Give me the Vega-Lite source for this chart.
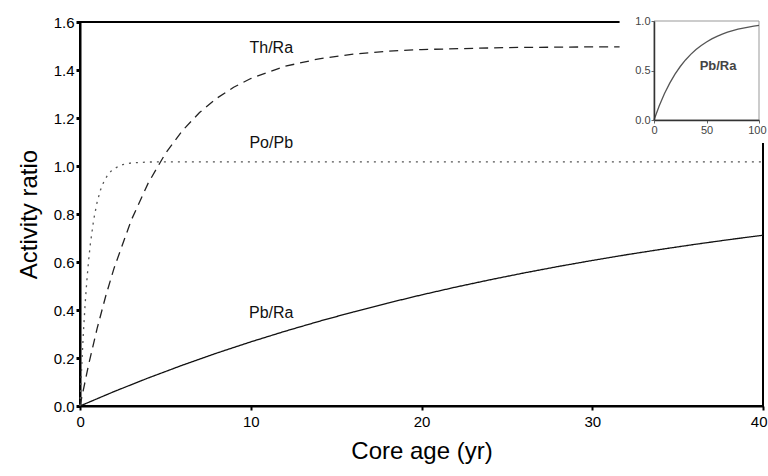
{
  "$schema": "https://vega.github.io/schema/vega-lite/v6.json",
  "width": 683,
  "height": 384,
  "autosize": {"type": "none"},
  "padding": {"left": 80, "top": 22, "right": 5, "bottom": 70},
  "background": "white",
  "config": {
    "view": {"stroke": "black", "strokeWidth": 2},
    "font": "Liberation Sans",
    "axis": {"grid": false, "domainColor": "black", "tickColor": "black", "labelColor": "black", "titleColor": "black", "labelFont": "Liberation Sans", "titleFont": "Liberation Sans", "titleFontWeight": "normal", "labelFlush": false}
  },
  "datasets": {
    "curves": [
      {"series": "Pb/Ra", "t": 0, "v": 0},
      {"series": "Pb/Ra", "t": 2, "v": 0.0603},
      {"series": "Pb/Ra", "t": 4, "v": 0.1169},
      {"series": "Pb/Ra", "t": 6, "v": 0.1701},
      {"series": "Pb/Ra", "t": 8, "v": 0.2202},
      {"series": "Pb/Ra", "t": 10, "v": 0.2672},
      {"series": "Pb/Ra", "t": 12, "v": 0.3113},
      {"series": "Pb/Ra", "t": 14, "v": 0.3528},
      {"series": "Pb/Ra", "t": 16, "v": 0.3918},
      {"series": "Pb/Ra", "t": 18, "v": 0.4285},
      {"series": "Pb/Ra", "t": 20, "v": 0.4629},
      {"series": "Pb/Ra", "t": 22, "v": 0.4953},
      {"series": "Pb/Ra", "t": 24, "v": 0.5257},
      {"series": "Pb/Ra", "t": 26, "v": 0.5543},
      {"series": "Pb/Ra", "t": 28, "v": 0.5812},
      {"series": "Pb/Ra", "t": 30, "v": 0.6064},
      {"series": "Pb/Ra", "t": 32, "v": 0.6302},
      {"series": "Pb/Ra", "t": 34, "v": 0.6524},
      {"series": "Pb/Ra", "t": 36, "v": 0.6734},
      {"series": "Pb/Ra", "t": 38, "v": 0.6931},
      {"series": "Pb/Ra", "t": 40, "v": 0.7116},
      {"series": "Th/Ra", "t": 0, "v": 0},
      {"series": "Th/Ra", "t": 0.5, "v": 0.1709},
      {"series": "Th/Ra", "t": 1, "v": 0.3223},
      {"series": "Th/Ra", "t": 1.5, "v": 0.4564},
      {"series": "Th/Ra", "t": 2, "v": 0.5753},
      {"series": "Th/Ra", "t": 3, "v": 0.7738},
      {"series": "Th/Ra", "t": 4, "v": 0.9295},
      {"series": "Th/Ra", "t": 5, "v": 1.0518},
      {"series": "Th/Ra", "t": 6, "v": 1.1476},
      {"series": "Th/Ra", "t": 7, "v": 1.2228},
      {"series": "Th/Ra", "t": 8, "v": 1.2819},
      {"series": "Th/Ra", "t": 9, "v": 1.3281},
      {"series": "Th/Ra", "t": 10, "v": 1.3645},
      {"series": "Th/Ra", "t": 12, "v": 1.4154},
      {"series": "Th/Ra", "t": 14, "v": 1.4468},
      {"series": "Th/Ra", "t": 16, "v": 1.4661},
      {"series": "Th/Ra", "t": 18, "v": 1.478},
      {"series": "Th/Ra", "t": 20, "v": 1.4853},
      {"series": "Th/Ra", "t": 25, "v": 1.4935},
      {"series": "Th/Ra", "t": 30, "v": 1.4962},
      {"series": "Th/Ra", "t": 35, "v": 1.4968},
      {"series": "Th/Ra", "t": 40, "v": 1.497},
      {"series": "Po/Pb", "t": 0, "v": 0},
      {"series": "Po/Pb", "t": 0.1, "v": 0.1675},
      {"series": "Po/Pb", "t": 0.2, "v": 0.3072},
      {"series": "Po/Pb", "t": 0.3, "v": 0.4241},
      {"series": "Po/Pb", "t": 0.4, "v": 0.5218},
      {"series": "Po/Pb", "t": 0.5, "v": 0.6033},
      {"series": "Po/Pb", "t": 0.6, "v": 0.6714},
      {"series": "Po/Pb", "t": 0.8, "v": 0.7759},
      {"series": "Po/Pb", "t": 1.0, "v": 0.8488},
      {"series": "Po/Pb", "t": 1.2, "v": 0.8997},
      {"series": "Po/Pb", "t": 1.4, "v": 0.9352},
      {"series": "Po/Pb", "t": 1.6, "v": 0.96},
      {"series": "Po/Pb", "t": 1.8, "v": 0.9773},
      {"series": "Po/Pb", "t": 2.0, "v": 0.9894},
      {"series": "Po/Pb", "t": 2.5, "v": 1.0059},
      {"series": "Po/Pb", "t": 3, "v": 1.0127},
      {"series": "Po/Pb", "t": 4, "v": 1.0165},
      {"series": "Po/Pb", "t": 5, "v": 1.0172},
      {"series": "Po/Pb", "t": 10, "v": 1.0173},
      {"series": "Po/Pb", "t": 20, "v": 1.0173},
      {"series": "Po/Pb", "t": 30, "v": 1.0173},
      {"series": "Po/Pb", "t": 40, "v": 1.0173}
    ],
    "inset": [
      {"t": 0, "v": 0},
      {"t": 5, "v": 0.1439},
      {"t": 10, "v": 0.2672},
      {"t": 15, "v": 0.3726},
      {"t": 20, "v": 0.4629},
      {"t": 25, "v": 0.5403},
      {"t": 30, "v": 0.6064},
      {"t": 35, "v": 0.6631},
      {"t": 40, "v": 0.7116},
      {"t": 45, "v": 0.7531},
      {"t": 50, "v": 0.7886},
      {"t": 55, "v": 0.819},
      {"t": 60, "v": 0.8451},
      {"t": 65, "v": 0.8674},
      {"t": 70, "v": 0.8865},
      {"t": 75, "v": 0.9028},
      {"t": 80, "v": 0.9168},
      {"t": 85, "v": 0.9288},
      {"t": 90, "v": 0.939},
      {"t": 95, "v": 0.9478},
      {"t": 100, "v": 0.9553}
    ],
    "labels": [
      {"label": "Th/Ra", "t": 11.2, "v": 1.49},
      {"label": "Po/Pb", "t": 11.2, "v": 1.096},
      {"label": "Pb/Ra", "t": 11.2, "v": 0.387}
    ]
  },
  "layer": [
    {
      "layer": [
        {
          "data": {"name": "curves"},
          "mark": {"type": "line", "strokeWidth": 1.3},
          "encoding": {
            "x": {"field": "t", "type": "quantitative", "scale": {"domain": [0, 40], "nice": false},
              "axis": {"values": [0, 10, 20, 30, 40], "title": "Core age (yr)", "labelFontSize": 15, "titleFontSize": 24, "tickSize": 4, "tickWidth": 2, "domainWidth": 2, "labelPadding": 4, "titlePadding": 10, "labelFlush": true, "labelFlushOffset": 4}},
            "y": {"field": "v", "type": "quantitative", "scale": {"domain": [0, 1.6], "nice": false},
              "axis": {"values": [0, 0.2, 0.4, 0.6, 0.8, 1.0, 1.2, 1.4, 1.6], "format": ".1f", "title": "Activity ratio", "labelFontSize": 15, "titleFontSize": 24, "tickSize": 4, "tickWidth": 3, "domainWidth": 2, "labelPadding": 2, "titlePadding": 12}},
            "detail": {"field": "series", "type": "nominal"},
            "strokeDash": {"field": "series", "type": "nominal", "scale": {"domain": ["Pb/Ra", "Th/Ra", "Po/Pb"], "range": [[1, 0], [9, 6], [2, 5]]}, "legend": null},
            "color": {"field": "series", "type": "nominal", "scale": {"domain": ["Pb/Ra", "Th/Ra", "Po/Pb"], "range": ["#111111", "#222222", "#555555"]}, "legend": null}
          }
        },
        {
          "data": {"name": "labels"},
          "mark": {"type": "text", "fontSize": 16, "font": "Liberation Sans", "color": "#111111"},
          "encoding": {
            "x": {"field": "t", "type": "quantitative", "scale": {"domain": [0, 40], "nice": false}},
            "y": {"field": "v", "type": "quantitative", "scale": {"domain": [0, 1.6], "nice": false}},
            "text": {"field": "label", "type": "nominal"}
          }
        },
        {
          "data": {"values": [{}]},
          "mark": {"type": "rect", "fill": "white", "clip": false},
          "encoding": {
            "x": {"datum": 31.6, "type": "quantitative", "scale": {"domain": [0, 40], "nice": false}},
            "x2": {"datum": 41.5},
            "y": {"datum": 1.096, "type": "quantitative", "scale": {"domain": [0, 1.6], "nice": false}},
            "y2": {"datum": 1.75}
          }
        }
      ]
    },
    {
      "layer": [
        {
          "data": {"values": [{}]},
          "mark": {"type": "rect", "fill": null, "stroke": "#999999", "strokeWidth": 1},
          "encoding": {
            "x": {"datum": 0, "type": "quantitative", "scale": {"domain": [0, 100], "range": [574, 679], "nice": false}},
            "x2": {"datum": 100},
            "y": {"datum": 0, "type": "quantitative", "scale": {"domain": [0, 1], "range": [98, -1], "nice": false}},
            "y2": {"datum": 1}
          }
        },
        {
          "data": {"name": "inset"},
          "mark": {"type": "line", "color": "#555555", "strokeWidth": 1.3},
          "encoding": {
            "x": {"field": "t", "type": "quantitative", "scale": {"domain": [0, 100], "range": [574, 679], "nice": false},
              "axis": {"orient": "bottom", "offset": -286, "zindex": 2, "values": [0, 50, 100], "title": null, "labelFontSize": 11, "labelColor": "#444444", "tickSize": 3, "domainColor": "#333333", "domainWidth": 1.5, "tickColor": "#666666", "labelPadding": 1,
                "labelAlign": {"condition": {"test": "datum.value == 100", "value": "right"}, "value": "center"},
                "labelOffset": {"condition": {"test": "datum.value == 100", "value": 7}, "value": 0}}},
            "y": {"field": "v", "type": "quantitative", "scale": {"domain": [0, 1], "range": [98, -1], "nice": false},
              "axis": {"orient": "left", "offset": -574, "zindex": 2, "values": [0, 0.5, 1], "format": ".1f", "title": null, "labelFontSize": 11, "labelColor": "#444444", "tickSize": 3, "domainColor": "#333333", "domainWidth": 1.5, "tickColor": "#666666", "labelPadding": 1}}
          }
        },
        {
          "data": {"values": [{"label": "Pb/Ra", "t": 61, "v": 0.545}]},
          "mark": {"type": "text", "fontSize": 13, "fontWeight": "bold", "color": "#444444", "font": "Liberation Sans"},
          "encoding": {
            "x": {"field": "t", "type": "quantitative", "scale": {"domain": [0, 100], "range": [574, 679], "nice": false}},
            "y": {"field": "v", "type": "quantitative", "scale": {"domain": [0, 1], "range": [98, -1], "nice": false}},
            "text": {"field": "label", "type": "nominal"}
          }
        }
      ]
    }
  ],
  "resolve": {"scale": {"x": "independent", "y": "independent"}, "axis": {"x": "independent", "y": "independent"}}
}
